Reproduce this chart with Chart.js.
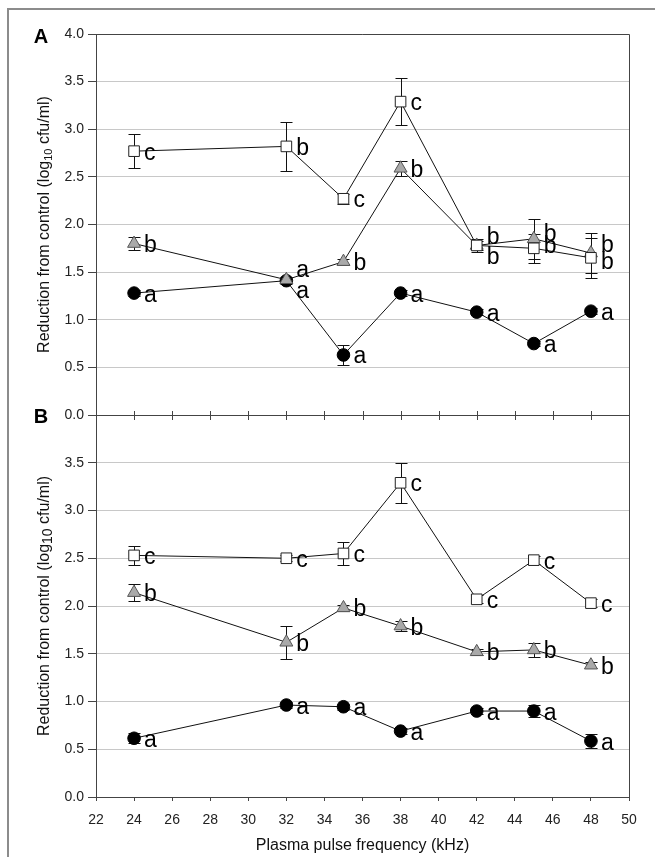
<!DOCTYPE html>
<html>
<head>
<meta charset="utf-8">
<script src="https://cdn.jsdelivr.net/npm/chart.js@4.4.0/dist/chart.umd.min.js"></script>
<style>
  body { margin: 0; background: #fff; width: 655px; height: 857px; overflow: hidden; position: relative; }
  #frame { position: absolute; left: 7px; top: 8px; width: 700px; height: 900px; border-left: 2px solid #8c8c8c; border-top: 2px solid #8c8c8c; }
  canvas { position: absolute; left: 0; }
  #chartA { top: 0; }
  #chartB { top: 400px; }
</style>
</head>
<body>
<div id="frame"></div>
<canvas id="chartA" width="655" height="430"></canvas>
<canvas id="chartB" width="655" height="457"></canvas>
<script>
// ── DATA ──
const freq = [24, 32, 35, 38, 42, 45, 48];
const xTicks = [22, 24, 26, 28, 30, 32, 34, 36, 38, 40, 42, 44, 46, 48, 50];
const yTicks = [0.0, 0.5, 1.0, 1.5, 2.0, 2.5, 3.0, 3.5, 4.0];

// panel A
const aSquare      = [2.77, 2.82, 2.27, 3.29, 1.78, 1.75, 1.65];
const aSquareErr   = [0.18, 0.26, 0.05, 0.25, 0.07, 0.15, 0.21];
const aTriangle    = [1.80, 1.42, 1.61, 2.59, 1.78, 1.85, 1.70];
const aTriangleErr = [0.07, 0.03, 0.03, 0.08, 0.05, 0.21, 0.21];
const aCircle      = [1.28, 1.41, 0.63, 1.28, 1.08, 0.75, 1.09];
const aCircleErr   = [0.03, 0.03, 0.105, 0.03, 0.03, 0.03, 0.03];

// panel B
const bSquare      = [2.53, 2.50, 2.55, 3.29, 2.07, 2.48, 2.03];
const bSquareErr   = [0.10, 0.03, 0.12, 0.21, 0.04, 0.04, 0.04];
const bTriangle    = [2.14, 1.62, 1.98, 1.79, 1.52, 1.54, 1.38];
const bTriangleErr = [0.09, 0.17, 0.03, 0.05, 0.03, 0.07, 0.03];
const bCircle      = [0.615, 0.963, 0.945, 0.69, 0.90, 0.90, 0.586];
const bCircleErr   = [0.05, 0.03, 0.03, 0.03, 0.03, 0.06, 0.07];

// significance letters
const aSquareLbl   = ['c', 'b', 'c', 'c', 'b', 'b', 'b'];
const aTriangleLbl = ['b', 'a', 'b', 'b', 'b', 'b', 'b'];
const aCircleLbl   = ['a', 'a', 'a', 'a', 'a', 'a', 'a'];
const bSquareLbl   = ['c', 'c', 'c', 'c', 'c', 'c', 'c'];
const bTriangleLbl = ['b', 'b', 'b', 'b', 'b', 'b', 'b'];
const bCircleLbl   = ['a', 'a', 'a', 'a', 'a', 'a', 'a'];

// ── LAYOUT (letter nudges where points overlap) ──
const aSquareDy   = [0, 0, 0, 0, -10, -4, 3];
const aTriangleDy = [0, -11, 0, 0, 10, -6, -10];
const aCircleDy   = [0, 9, 0, 0, 0, 0, 0];
const zeroDy      = [0, 0, 0, 0, 0, 0, 0];

const FONT = 'Arial, "Liberation Sans", sans-serif';

function toPoints(vals) { return freq.map((f, i) => ({ x: f, y: vals[i] })); }

function makeSet(kind, vals, errs, letters, dy) {
  const styles = {
    square:   { pointStyle: 'rect',     radius: 7.5, bg: '#ffffff', border: '#222' },
    triangle: { pointStyle: 'triangle', radius: 7.5, bg: '#a9a9a9', border: '#555' },
    circle:   { pointStyle: 'circle',   radius: 6.3, bg: '#000000', border: '#000' },
  }[kind];
  return {
    data: toPoints(vals),
    errors: errs,
    letters,
    letterDy: dy,
    borderColor: '#111',
    borderWidth: 1,
    pointStyle: styles.pointStyle,
    pointRadius: styles.radius,
    pointBackgroundColor: styles.bg,
    pointBorderColor: styles.border,
    pointBorderWidth: 1,
    tension: 0,
    fill: false,
  };
}

// ── PLUGIN: error bars, letters, frame, titles ──
const panelDecor = {
  id: 'panelDecor',
  beforeDatasetsDraw(chart) {
    const ctx = chart.ctx, ys = chart.scales.y;
    ctx.save();
    ctx.strokeStyle = '#111';
    ctx.lineWidth = 1;
    chart.data.datasets.forEach((ds, di) => {
      const meta = chart.getDatasetMeta(di);
      ds.data.forEach((p, i) => {
        const x = Math.round(meta.data[i].x) + 0.5;
        const y1 = Math.round(ys.getPixelForValue(p.y + ds.errors[i])) + 0.5;
        const y2 = Math.round(ys.getPixelForValue(p.y - ds.errors[i])) + 0.5;
        ctx.beginPath();
        ctx.moveTo(x, y1); ctx.lineTo(x, y2);
        ctx.moveTo(x - 6, y1); ctx.lineTo(x + 6, y1);
        ctx.moveTo(x - 6, y2); ctx.lineTo(x + 6, y2);
        ctx.stroke();
      });
    });
    ctx.restore();
  },
  afterDatasetsDraw(chart) {
    const ctx = chart.ctx;
    ctx.save();
    ctx.fillStyle = '#000';
    ctx.font = '23px ' + FONT;
    ctx.textAlign = 'left';
    ctx.textBaseline = 'alphabetic';
    chart.data.datasets.forEach((ds, di) => {
      const meta = chart.getDatasetMeta(di);
      ds.letters.forEach((l, i) => {
        const el = meta.data[i];
        ctx.fillText(l, el.x + 10, el.y + 8.5 + ds.letterDy[i]);
      });
    });
    ctx.restore();
  },
  afterDraw(chart, args, opts) {
    const ctx = chart.ctx, a = chart.chartArea;
    ctx.save();
    ctx.strokeStyle = '#444';
    ctx.lineWidth = 1;
    ctx.beginPath();
    ctx.moveTo(a.left, Math.round(a.top) + 0.5);
    ctx.lineTo(Math.round(a.right) + 0.5, Math.round(a.top) + 0.5);
    ctx.lineTo(Math.round(a.right) + 0.5, Math.round(a.bottom) + 0.5);
    if (opts.bottomLine) ctx.lineTo(a.left, Math.round(a.bottom) + 0.5);
    ctx.stroke();

    // x tick marks crossing the shared boundary (panel A)
    if (opts.bottomLine) {
      const xs = chart.scales.x;
      ctx.beginPath();
      xTicks.forEach(v => {
        const px = Math.round(xs.getPixelForValue(v)) + 0.5;
        ctx.moveTo(px, a.bottom - 4);
        ctx.lineTo(px, a.bottom + 5);
      });
      ctx.stroke();
    }

    // panel letter
    ctx.fillStyle = '#000';
    ctx.font = 'bold 20px ' + FONT;
    ctx.textAlign = 'center';
    ctx.textBaseline = 'middle';
    ctx.fillText(opts.panel, 41, opts.panelY);

    // y title with subscript
    const cy = (a.top + a.bottom) / 2;
    ctx.translate(43, cy);
    ctx.rotate(-Math.PI / 2);
    const p1 = 'Reduction from control (log', sub = '10', p2 = ' cfu/ml)';
    ctx.font = '16px ' + FONT;
    const w1 = ctx.measureText(p1).width, w3 = ctx.measureText(p2).width;
    ctx.font = opts.subSize + 'px ' + FONT;
    const w2 = ctx.measureText(sub).width;
    let x0 = -(w1 + w2 + w3) / 2;
    ctx.textAlign = 'left';
    ctx.textBaseline = 'alphabetic';
    ctx.fillStyle = '#111';
    ctx.font = '16px ' + FONT;
    ctx.fillText(p1, x0, 6);
    ctx.font = opts.subSize + 'px ' + FONT;
    ctx.fillText(sub, x0 + w1, 9);
    ctx.font = '16px ' + FONT;
    ctx.fillText(p2, x0 + w1 + w2, 6);
    ctx.restore();
  }
};

function makeOptions(isTop) {
  return {
    responsive: false,
    animation: false,
    layout: { padding: isTop ? { left: 0, right: 26, top: 34, bottom: 15 } : { left: 0, right: 26, top: 15, bottom: 0 } },
    plugins: {
      legend: { display: false },
      tooltip: { enabled: false },
      panelDecor: { panel: isTop ? 'A' : 'B', panelY: isTop ? 37 : 17.5, bottomLine: isTop, subSize: isTop ? 11 : 14 },
    },
    scales: {
      x: {
        type: 'linear',
        display: !isTop,
        min: 22, max: 50,
        afterBuildTicks: s => { s.ticks = xTicks.map(v => ({ value: v })); },
        afterFit: s => { s.height = isTop ? 0 : 60; },
        grid: { drawOnChartArea: false, drawTicks: true, tickLength: 4, tickColor: '#444' },
        border: { display: true, color: '#444', width: 1 },
        ticks: { color: '#222', padding: 11, font: { size: 14, family: FONT }, maxRotation: 0 },
        title: { display: true, text: 'Plasma pulse frequency (kHz)', color: '#111', font: { size: 16, family: FONT }, padding: { top: 0, bottom: 2 } },
      },
      y: {
        type: 'linear',
        min: 0, max: 4,
        afterBuildTicks: s => { s.ticks = yTicks.map(v => ({ value: v })); },
        afterFit: s => { s.width = 96; },
        grid: { color: '#c8c8c8', lineWidth: 1, tickLength: 8, tickColor: '#444' },
        border: { display: true, color: '#444', width: 1 },
        ticks: {
          color: '#222', padding: 4, font: { size: 14, family: FONT },
          callback: v => (!isTop && v === 4) ? '' : v.toFixed(1),
        },
      },
    },
  };
}

Chart.register(panelDecor);

new Chart(document.getElementById('chartA'), {
  type: 'line',
  data: {
    datasets: [
      makeSet('square',   aSquare,   aSquareErr,   aSquareLbl,   aSquareDy),
      makeSet('triangle', aTriangle, aTriangleErr, aTriangleLbl, aTriangleDy),
      makeSet('circle',   aCircle,   aCircleErr,   aCircleLbl,   aCircleDy),
    ]
  },
  options: makeOptions(true),
});

new Chart(document.getElementById('chartB'), {
  type: 'line',
  data: {
    datasets: [
      makeSet('square',   bSquare,   bSquareErr,   bSquareLbl,   zeroDy),
      makeSet('triangle', bTriangle, bTriangleErr, bTriangleLbl, zeroDy),
      makeSet('circle',   bCircle,   bCircleErr,   bCircleLbl,   zeroDy),
    ]
  },
  options: makeOptions(false),
});
</script>
</body>
</html>
